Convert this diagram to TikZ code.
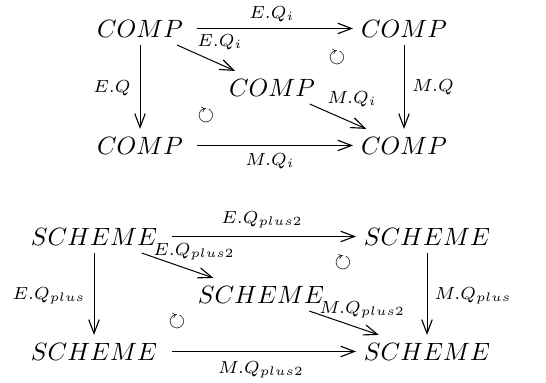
\documentclass[tikz,border=0pt]{standalone}
\usepackage{amssymb}
\usetikzlibrary{arrows.meta}
\tikzset{
  obj/.style={anchor=base, inner sep=3.2pt, outer sep=0pt, font=\fontsize{10}{12}\selectfont},
  lbl/.style={anchor=base, inner sep=0pt, font=\fontsize{10}{12}\selectfont},
  arr/.style={line width=0.4pt, -{Straight Barb[length=5.5pt,width=4.2pt,line width=0.45pt]}},
  sym/.style={inner sep=0pt, font=\fontsize{11}{13}\selectfont},
}
\begin{document}
\begin{tikzpicture}[x=0.4pt, y=-0.4pt]
\useasboundingbox (0,0) rectangle (546,382);
% ---------- COMP square ----------
\node[obj] (a1) at (140,37) {$COMP$};
\node[obj] (b1) at (404,37) {$COMP$};
\node[obj] (m1) at (272,96) {$COMP$};
\node[obj] (c1) at (140,154) {$COMP$};
\node[obj] (d1) at (404,154) {$COMP$};
\draw[arr, shorten <=2.4pt] (a1) -- (b1);
\draw[arr] (a1) -- (m1);
\draw[arr] (m1) -- (d1);
\draw[arr] (a1) -- (c1);
\draw[arr] (b1) -- (d1);
\draw[arr, shorten <=2.4pt] (c1) -- (d1);
\node[lbl] (l1) at (272,18) {$\scriptstyle E.Q_i$};
\node[lbl] (l2) at (220,46) {$\scriptstyle E.Q_i$};
\node[lbl] (l3) at (112,92) {$\scriptstyle E.Q$};
\node[lbl] (l4) at (433,91) {$\scriptstyle M.Q$};
\node[lbl] (l5) at (352,103) {$\scriptstyle M.Q_i$};
\node[lbl] (l6) at (270,165) {$\scriptstyle M.Q_i$};
\node[sym] (s1) at (337,58) {$\scriptstyle\circlearrowright$};
\node[sym] (s2) at (206,116) {$\scriptstyle\circlearrowright$};
% ---------- SCHEME square ----------
\node[obj] (a2) at (94,245) {$SCHEME$};
\node[obj] (b2) at (427,245) {$SCHEME$};
\node[obj] (m2) at (261,303) {$SCHEME$};
\node[obj] (c2) at (94,360) {$SCHEME$};
\node[obj] (d2) at (427,360) {$SCHEME$};
\draw[arr, shorten <=2.8pt] (a2) -- (b2);
\draw[arr] (a2) -- (m2);
\draw[arr] (m2) -- (d2);
\draw[arr] (a2) -- (c2);
\draw[arr] (b2) -- (d2);
\draw[arr, shorten <=2.8pt] (c2) -- (d2);
\node[lbl] (k1) at (262,223) {$\scriptstyle E.Q_{plus2}$};
\node[lbl] (k2) at (194,255) {$\scriptstyle E.Q_{plus2}$};
\node[lbl] (k3) at (49,299) {$\scriptstyle E.Q_{plus}$};
\node[lbl] (k4) at (473,299) {$\scriptstyle M.Q_{plus}$};
\node[lbl] (k5) at (362,313) {$\scriptstyle M.Q_{plus2}$};
\node[lbl] (k6) at (261,373) {$\scriptstyle M.Q_{plus2}$};
\node[sym] (s3) at (343,263) {$\scriptstyle\circlearrowright$};
\node[sym] (s4) at (177,322) {$\scriptstyle\circlearrowright$};
\end{tikzpicture}
\end{document}
